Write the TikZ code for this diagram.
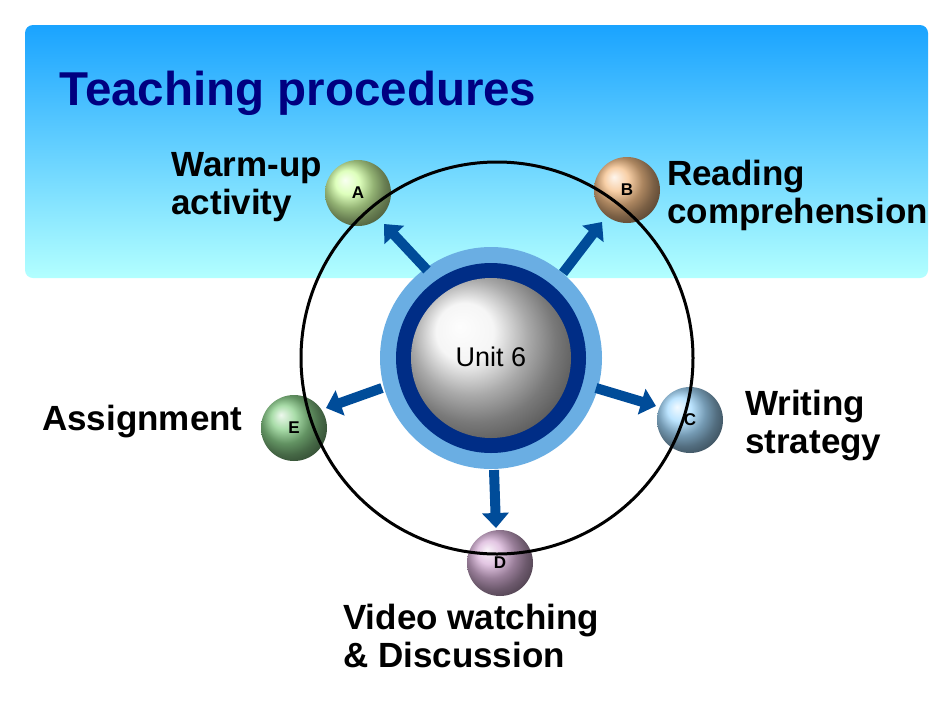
\documentclass[tikz,border=0pt]{standalone}
\usepackage{fontspec}
\setmainfont{Liberation Sans}
\usetikzlibrary{arrows.meta}
\begin{document}
\begin{tikzpicture}[x=1pt,y=-1pt,
  lab/.style={font=\fontsize{35}{38}\selectfont\bfseries,align=left,inner sep=0},
  ball/.style={circle,minimum size=66pt,inner sep=0,font=\fontsize{17}{17}\selectfont\bfseries},
  arr/.style={line width=10pt,-{Triangle[length=15pt,width=26pt]},draw=blue!50!cyan!60!black}]
\useasboundingbox (0,0) rectangle (950,713);
\fill[white] (0,0) rectangle (950,713);
\shade[rounded corners=8pt,top color=cyan!60!blue!90,bottom color=cyan!30!white] (25,25) rectangle (928,278);
\node[anchor=west,text=blue!50!black,font=\fontsize{47.5}{47.5}\selectfont\bfseries] (title) at (56,93) {Teaching procedures};
% center
\node[circle,minimum size=222pt,fill=cyan!70!blue!60] (ring) at (491,358) {};
\node[circle,minimum size=190pt,fill=teal!50!blue!70!black] at (491,358) {};
\shade[ball color=gray!10] (491,358) circle (80pt);
\node[font=\fontsize{27}{27}\selectfont] (u) at (491,357) {Unit 6};
% balls
\node[ball,ball color=yellow!50!green!35] (A) at (358,193) {A};
\node[ball,ball color=orange!70!brown!50] (B) at (627,190) {B};
\node[ball,ball color=blue!40!cyan!35] (C) at (690,420) {C};
\node[ball,ball color=violet!30] (D) at (500,563) {D};
\node[ball,ball color=green!60!black!45] (E) at (294,428) {E};
% arrows
\draw[arr] (427,270) -- (384,224);
\draw[arr] (563,273) -- (602,222);
\draw[arr] (596,388) -- (656,406);
\draw[arr] (494,470) -- (496,528);
\draw[arr] (382,388) -- (326,408);
\draw[line width=3pt] (497,358) circle (196pt);
% labels
\node[lab,anchor=north east,align=left] (la) at (322,152) {Warm-up\\activity};
\node[lab,anchor=north west] (lb) at (667,160) {Reading\\comprehension};
\node[lab,anchor=north west] (lc) at (745,390) {Writing\\strategy};
\node[lab,anchor=west] (le) at (42,422) {Assignment};
\node[lab,anchor=north west] (ld) at (343,604) {Video watching\\\& Discussion};
\end{tikzpicture}
\end{document}
